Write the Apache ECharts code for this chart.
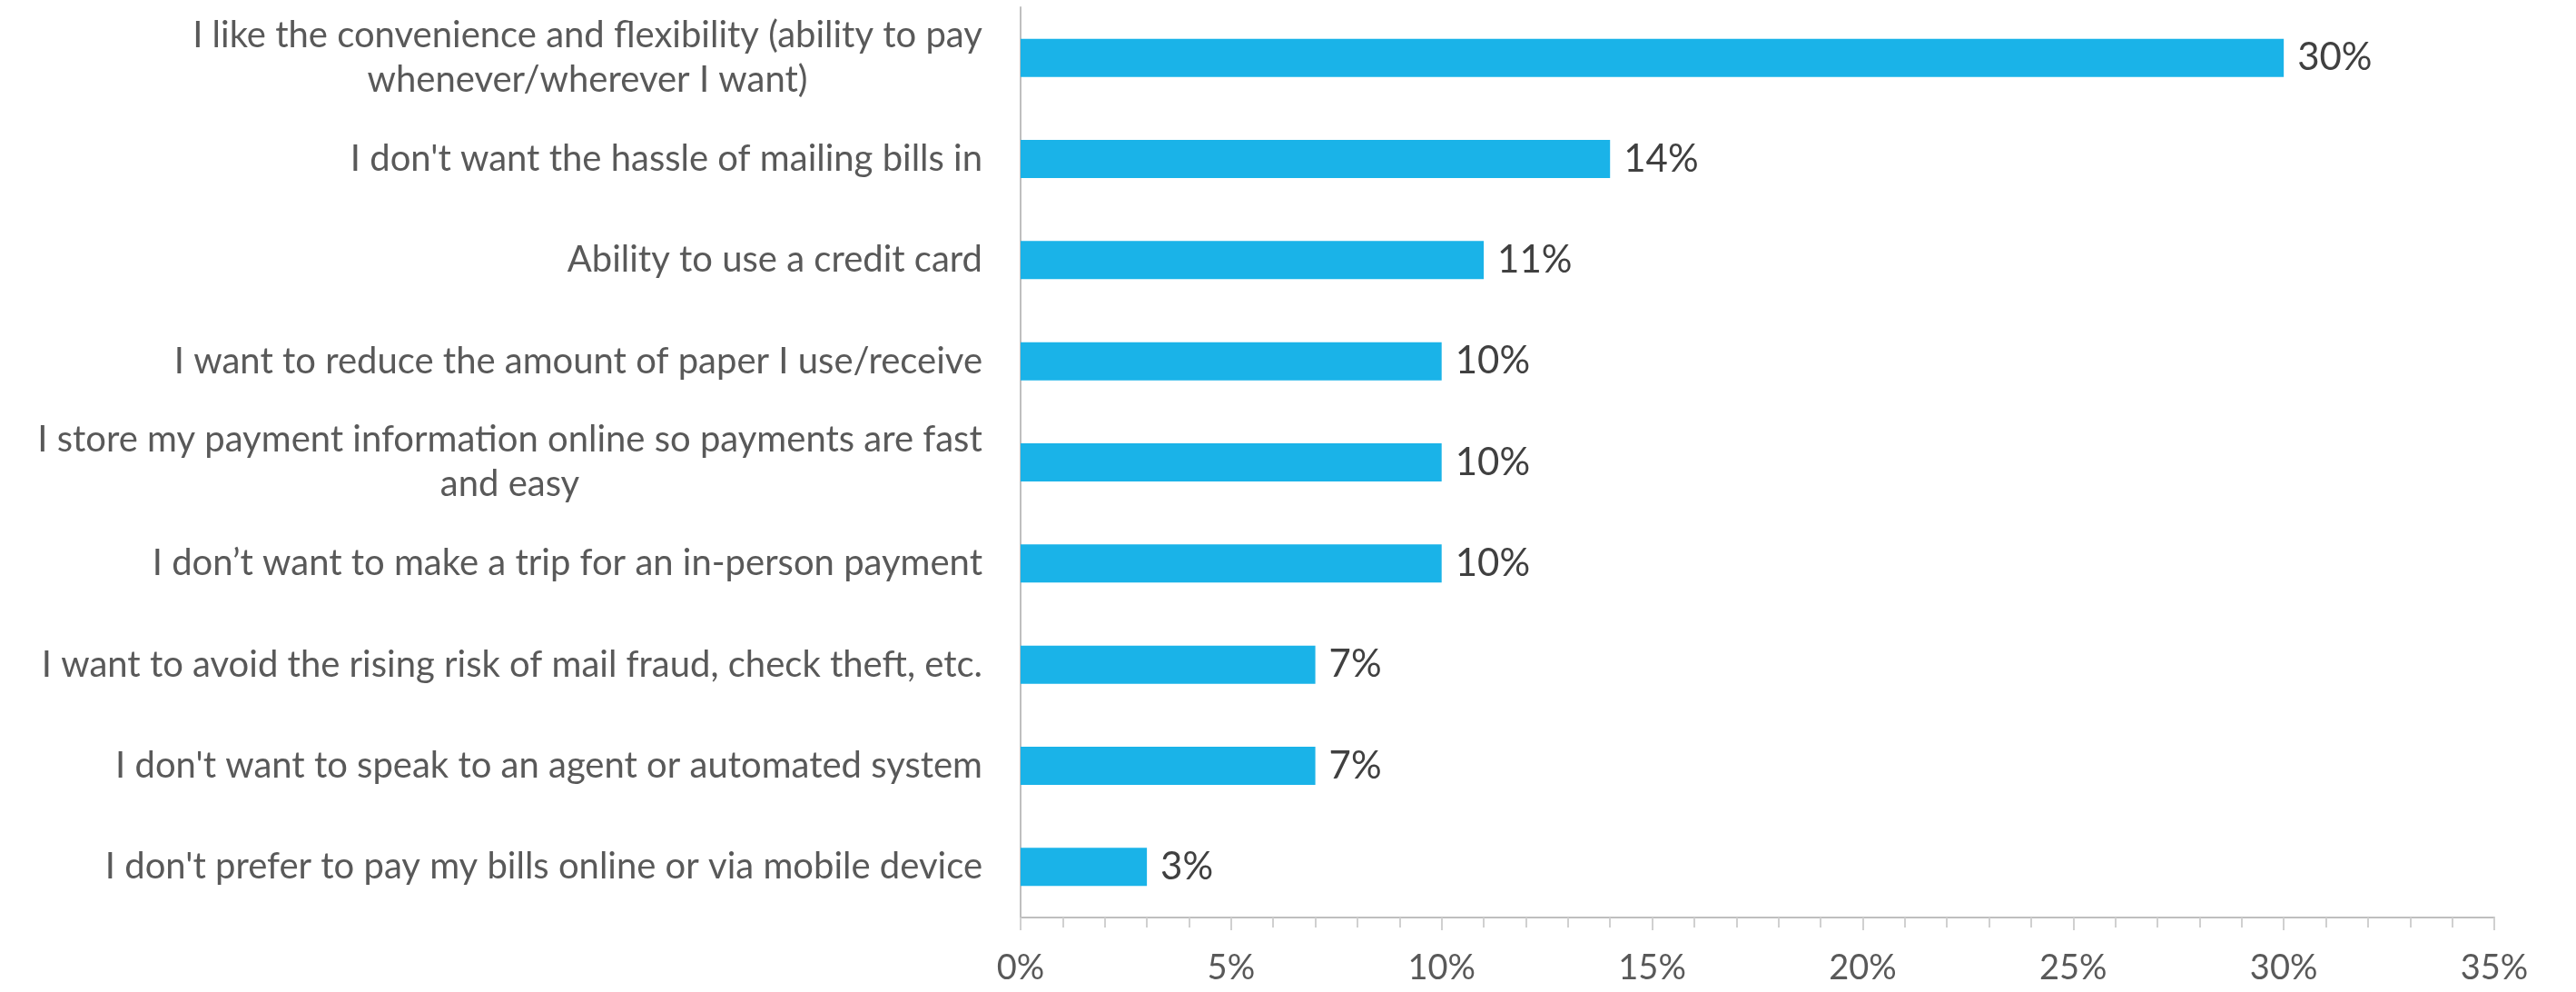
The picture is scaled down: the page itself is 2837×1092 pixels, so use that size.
<!DOCTYPE html>
<html>
<head>
<meta charset="utf-8">
<script src="https://cdn.jsdelivr.net/npm/echarts@6/dist/echarts.min.js"></script>
<style>
  html, body { margin: 0; padding: 0; background: #ffffff; }
  #chart { width: 2837px; height: 1092px; }
</style>
</head>
<body>
<div id="chart"></div>
<script>
// Reasons for paying bills online (share of respondents, %)
const reasons = [
  "I like the convenience and flexibility (ability to pay\nwhenever/wherever I want)",
  "I don't want the hassle of mailing bills in",
  "Ability to use a credit card",
  "I want to reduce the amount of paper I use/receive",
  "I store my payment information online so payments are fast\nand easy",
  "I don\u2019t want to make a trip for an in-person payment",
  "I want to avoid the rising risk of mail fraud, check theft, etc.",
  "I don't want to speak to an agent or automated system",
  "I don't prefer to pay my bills online or via mobile device"
];
const shares = [30, 14, 11, 10, 10, 10, 7, 7, 3];
const axisMax = 35;
const axisStep = 5;

const FONT = "Lato";
const CAT_SIZE = 40;
const CAT_LINE = 49;

// Multi-line category labels: lines centred within the block, block right-aligned
const measure = document.createElement('canvas').getContext('2d');
measure.font = CAT_SIZE + 'px ' + FONT;
const rich = {};
reasons.forEach((r, i) => {
  const lines = r.split('\n');
  if (lines.length > 1) {
    const w = Math.max(...lines.map(l => measure.measureText(l).width));
    rich['c' + i] = { width: Math.ceil(w), align: 'center', fontSize: CAT_SIZE, lineHeight: CAT_LINE, color: '#595959', fontFamily: FONT };
  }
});

const chart = echarts.init(document.getElementById('chart'));
chart.setOption({
  animation: false,
  backgroundColor: '#ffffff',
  grid: { left: 1124, right: 90, top: 8, bottom: 82 },
  xAxis: {
    type: 'value',
    min: 0,
    max: axisMax,
    interval: axisStep,
    axisLine: { show: true, lineStyle: { color: '#bfbfbf', width: 2 } },
    axisTick: { show: true, length: 14, lineStyle: { color: '#d0d0d0', width: 2 } },
    minorTick: { show: true, splitNumber: 5, length: 11, lineStyle: { color: '#d0d0d0', width: 2 } },
    splitLine: { show: false },
    axisLabel: {
      formatter: '{value}%',
      color: '#595959',
      fontFamily: FONT,
      fontSize: 38,
      margin: 37
    }
  },
  yAxis: {
    type: 'category',
    inverse: true,
    data: reasons,
    axisLine: { show: true, lineStyle: { color: '#bfbfbf', width: 2 } },
    axisTick: { show: false },
    axisLabel: {
      color: '#595959',
      fontFamily: FONT,
      fontSize: CAT_SIZE,
      lineHeight: CAT_LINE,
      margin: 42,
      formatter: (val, idx) => {
        const lines = val.split('\n');
        if (lines.length > 1) return lines.map(l => '{c' + idx + '|' + l + '}').join('\n');
        return val;
      },
      rich: rich
    }
  },
  series: [{
    type: 'bar',
    data: shares,
    barWidth: 42,
    itemStyle: { color: '#1ab3e8' },
    label: {
      show: true,
      position: 'right',
      distance: 15,
      formatter: '{c}%',
      color: '#404040',
      fontFamily: FONT,
      fontSize: 42
    }
  }]
});
</script>
</body>
</html>
